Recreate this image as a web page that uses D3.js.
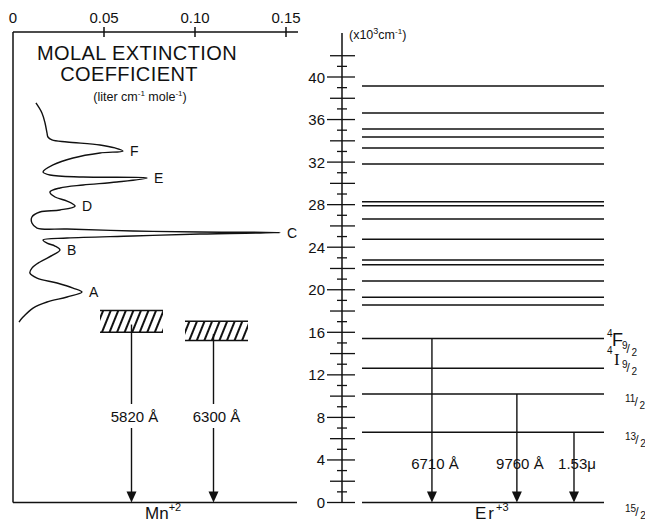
<!DOCTYPE html>
<html>
<head>
<meta charset="utf-8">
<script src="https://cdn.jsdelivr.net/npm/d3@7"></script>
<style>
  body { margin: 0; background: #fff; }
  svg { display: block; }
  text { font-family: "Liberation Sans", Arial, sans-serif; fill: #111; }
</style>
</head>
<body>
<svg id="chart" width="645" height="525"></svg>
<script>
// ---- data -------------------------------------------------------------
// Energy scale in units of 10^3 cm^-1
const energyTickLabels = [0, 4, 8, 12, 16, 20, 24, 28, 32, 36, 40];
const energyMax = 42;

// Er+3 levels (10^3 cm^-1)
const erLevels = [0, 6.60, 10.20, 12.62, 15.42, 18.57, 19.29, 20.82, 22.36, 22.80,
                  24.74, 26.65, 27.90, 28.28, 31.82, 33.33, 34.36, 35.12, 36.62, 39.15];

// Er+3 emission transitions (upper level -> ground)
const erFrom   = [15.42, 10.20, 6.60];
const erLabels = ["6710 Å", "9760 Å", "1.53μ"];

// Mn+2 emission bands (lower / upper edge, 10^3 cm^-1)
const mnLow    = [16.00, 15.24];
const mnHigh   = [18.06, 17.03];
const mnLabels = ["5820 Å", "6300 Å"];

// Molal extinction coefficient axis
const extTicks      = [0.05, 0.10, 0.15];
const extTickLabels = ["0.05", "0.10", "0.15"];

// Absorption spectrum trace: energy (10^3 cm^-1) vs extinction
const spectrumE = [37.56, 36.62, 35.68, 34.73, 34.36, 34.08, 33.89, 33.61, 33.33, 33.04,
                   32.86, 32.39, 31.73, 31.07, 30.79, 30.60, 30.51, 30.13, 29.85, 29.57,
                   29.19, 28.72, 28.34, 27.87, 27.50, 27.31, 26.84, 26.27, 25.80, 25.71,
                   25.52, 25.43, 25.38, 25.24, 25.05, 24.86, 24.68, 24.39, 24.11, 23.74,
                   23.27, 22.61, 22.04, 21.57, 21.10, 20.63, 20.16, 19.79, 19.32, 18.85,
                   18.28, 17.43, 16.96];
const spectrumExt = [0.0126, 0.0159, 0.0176, 0.0187, 0.0192, 0.0214, 0.0297, 0.0478, 0.0560, 0.0604,
                     0.0478, 0.0330, 0.0220, 0.0165, 0.0203, 0.0385, 0.0736, 0.0571, 0.0385, 0.0258,
                     0.0203, 0.0231, 0.0297, 0.0341, 0.0258, 0.0148, 0.0104, 0.0104, 0.0132, 0.0297,
                     0.0659, 0.1027, 0.1467, 0.1027, 0.0659, 0.0297, 0.0165, 0.0187, 0.0231, 0.0258,
                     0.0220, 0.0148, 0.0104, 0.0093, 0.0132, 0.0242, 0.0330, 0.0379, 0.0297, 0.0187,
                     0.0110, 0.0055, 0.0033];

// Labelled absorption peaks
const peakNames = ["A", "B", "C", "D", "E", "F"];
const peakE     = [19.79, 23.74, 25.38, 27.87, 30.51, 33.04];
const peakExt   = [0.0379, 0.0258, 0.1467, 0.0341, 0.0736, 0.0604];

// Term symbols on the Er+3 levels
const termLevels = [15.42, 12.62, 10.20, 6.60, 0];
const termLetter = ["F", "I", "", "", ""];
const termNum    = ["9", "9", "11", "13", "15"];

// ---- layout -----------------------------------------------------------
const svg = d3.select("#chart");
const ink = "#111";

const y = d3.scaleLinear().domain([0, 40]).range([502.5, 77]);
const xExt = d3.scaleLinear().domain([0, 0.15]).range([13, 286]);

const axisX = 342;          // energy axis
const levelX0 = 362, levelX1 = 604;
const levelX = d3.scaleLinear().domain([0, 1]).range([levelX0, levelX1]);
const erColumn = [0.289, 0.640, 0.876];

const topY = 32;

// ---- helpers ----------------------------------------------------------
function drawArrow(g, x, yTop, yTip, label, labelY) {
  const headH = 11, headW = 10;
  g.append("line").attr("x1", x).attr("x2", x).attr("y1", yTop).attr("y2", yTip - headH + 1)
    .attr("stroke", ink).attr("stroke-width", 1.4);
  g.append("path")
    .attr("d", `M${x - headW / 2},${yTip - headH}L${x + headW / 2},${yTip - headH}L${x},${yTip}Z`)
    .attr("fill", ink);
  const t = g.append("text").attr("x", x + 3).attr("y", labelY + 6)
    .attr("text-anchor", "middle").attr("font-size", 15).text(label);
  const bb = t.node().getBBox();
  g.insert("rect", "text").attr("x", bb.x - 2).attr("y", labelY - 12)
    .attr("width", bb.width + 4).attr("height", 24).attr("fill", "#fff");
}

function drawFraction(g, x, y0, num, den) {
  const n = g.append("text").attr("x", x).attr("y", y0).attr("font-size", 10).text(num);
  const w = n.node().getComputedTextLength();
  g.append("text").attr("x", x + w - 1).attr("y", y0 + 4).attr("font-size", 12).text("/");
  g.append("text").attr("x", x + w + 4).attr("y", y0 + 7).attr("font-size", 10).text(den);
}

// ---- left panel frame -------------------------------------------------
const left = svg.append("g");
left.append("line").attr("x1", xExt(0)).attr("x2", xExt(0))
  .attr("y1", topY).attr("y2", y(0)).attr("stroke", ink).attr("stroke-width", 1.5);
left.append("line").attr("x1", xExt(0)).attr("x2", 298)
  .attr("y1", topY).attr("y2", topY).attr("stroke", ink).attr("stroke-width", 1.5);
left.append("line").attr("x1", xExt(0)).attr("x2", 297)
  .attr("y1", y(0)).attr("y2", y(0)).attr("stroke", ink).attr("stroke-width", 1.5);

// top extinction axis ticks + labels
left.selectAll(".xt").data(extTicks).join("line")
  .attr("x1", d => xExt(d)).attr("x2", d => xExt(d))
  .attr("y1", topY - 5).attr("y2", topY + 5)
  .attr("stroke", ink).attr("stroke-width", 1.5);
left.selectAll(".xl").data(extTickLabels).join("text")
  .attr("x", (d, i) => xExt(extTicks[i])).attr("y", 23)
  .attr("text-anchor", "middle").attr("font-size", 15).text(d => d);
left.append("text").attr("x", xExt(0)).attr("y", 23)
  .attr("text-anchor", "middle").attr("font-size", 15).text("0");

// title
left.append("text").attr("x", 137).attr("y", 60).attr("text-anchor", "middle")
  .attr("font-size", 20).attr("letter-spacing", 0.4).text("MOLAL EXTINCTION");
left.append("text").attr("x", 129).attr("y", 81).attr("text-anchor", "middle")
  .attr("font-size", 20).attr("letter-spacing", 0.4).text("COEFFICIENT");
const units = left.append("text").attr("x", 140).attr("y", 101)
  .attr("text-anchor", "middle").attr("font-size", 12.5);
units.append("tspan").text("(liter cm");
units.append("tspan").attr("dy", -5).attr("font-size", 8).text("-1");
units.append("tspan").attr("dy", 5).text(" mole");
units.append("tspan").attr("dy", -5).attr("font-size", 8).text("-1");
units.append("tspan").attr("dy", 5).text(")");

// spectrum trace
const spectrum = spectrumE.map((e, i) => [spectrumExt[i], e]);
left.append("path").datum(spectrum)
  .attr("fill", "none").attr("stroke", ink).attr("stroke-width", 1.4)
  .attr("d", d3.line().x(d => xExt(d[0])).y(d => y(d[1])).curve(d3.curveCatmullRom.alpha(0.5)));

left.selectAll(".pk").data(peakNames).join("text")
  .attr("x", (d, i) => xExt(peakExt[i]) + 7)
  .attr("y", (d, i) => y(peakE[i]) + 5)
  .attr("font-size", 14).text(d => d);

// Mn+2 bands with hatching
const defs = svg.append("defs");
defs.append("pattern").attr("id", "hatch").attr("patternUnits", "userSpaceOnUse")
  .attr("width", 7).attr("height", 7).attr("patternTransform", "rotate(22)")
  .append("line").attr("x1", 2).attr("x2", 2).attr("y1", 0).attr("y2", 7)
  .attr("stroke", ink).attr("stroke-width", 2);

const mnBoxX = [100, 185], mnBoxW = 63;
mnLow.forEach((lo, i) => {
  const g = left.append("g");
  const x0 = mnBoxX[i], x1 = x0 + mnBoxW;
  g.append("rect").attr("x", x0).attr("y", y(mnHigh[i]))
    .attr("width", mnBoxW).attr("height", y(lo) - y(mnHigh[i]))
    .attr("fill", "url(#hatch)");
  [mnHigh[i], lo].forEach(e => g.append("line")
    .attr("x1", x0).attr("x2", x1).attr("y1", y(e)).attr("y2", y(e))
    .attr("stroke", ink).attr("stroke-width", 1.5));
  const ax = x0 + mnBoxW / 2 - (i === 1 ? 3 : 0);
  drawArrow(g, ax, y((lo + mnHigh[i]) / 2 - 0.3), y(0), mnLabels[i], 416);
});

const mn = left.append("text").attr("x", 145).attr("y", 519).attr("font-size", 17);
mn.append("tspan").text("Mn");
mn.append("tspan").attr("dy", -8).attr("font-size", 11).text("+2");

// ---- right panel: energy axis -----------------------------------------
const right = svg.append("g");
right.append("line").attr("x1", axisX).attr("x2", axisX)
  .attr("y1", 33).attr("y2", y(0)).attr("stroke", ink).attr("stroke-width", 1.5);
right.selectAll(".et").data(d3.range(0, energyMax + 1)).join("line")
  .attr("x1", d => d % 4 === 0 ? 327 : (d % 2 === 0 ? 330 : 337))
  .attr("x2", d => d % 2 === 0 ? 355 : 347)
  .attr("y1", d => y(d)).attr("y2", d => y(d))
  .attr("stroke", ink).attr("stroke-width", 1.3);
right.selectAll(".el").data(energyTickLabels).join("text")
  .attr("x", 325).attr("y", d => y(d) + 5.5)
  .attr("text-anchor", "end").attr("font-size", 15).text(d => d);
const eu = right.append("text").attr("x", 349).attr("y", 39).attr("font-size", 12.5);
eu.append("tspan").text("(x10");
eu.append("tspan").attr("dy", -5).attr("font-size", 9).text("3");
eu.append("tspan").attr("dy", 5).text("cm");
eu.append("tspan").attr("dy", -5).attr("font-size", 8).text("-1");
eu.append("tspan").attr("dy", 5).text(")");

// Er+3 levels
right.selectAll(".lv").data(erLevels).join("line")
  .attr("x1", levelX0).attr("x2", levelX1)
  .attr("y1", d => y(d)).attr("y2", d => y(d))
  .attr("stroke", ink).attr("stroke-width", 1.5);

erFrom.forEach((e, i) => {
  drawArrow(right, levelX(erColumn[i]), y(e), y(0), erLabels[i], 463);
});

const er = right.append("text").attr("x", 475).attr("y", 519).attr("font-size", 17)
  .attr("letter-spacing", 2);
er.append("tspan").text("Er");
er.append("tspan").attr("dy", -8).attr("font-size", 11).attr("letter-spacing", 0).text("+3");

// term symbols
termLevels.forEach((e, i) => {
  const ly = y(e);
  const g = right.append("g");
  let fx, fy;
  if (termLetter[i] === "F") {
    g.append("text").attr("x", 607).attr("y", ly - 1).attr("font-size", 10).text("4");
    g.append("text").attr("x", 612).attr("y", ly + 8).attr("font-size", 18).text("F");
    fx = 622; fy = ly + 11;
  } else if (termLetter[i] === "I") {
    g.append("text").attr("x", 607).attr("y", ly - 14).attr("font-size", 10).text("4");
    g.append("text").attr("x", 614).attr("y", ly - 3).attr("font-size", 17)
      .style("font-family", "'Liberation Serif', serif").text("I");
    fx = 622; fy = ly;
  } else {
    fx = 625; fy = ly + (e === 0 ? 9.5 : 8);
  }
  drawFraction(g, fx, fy, termNum[i], "2");
});
</script>
</body>
</html>
